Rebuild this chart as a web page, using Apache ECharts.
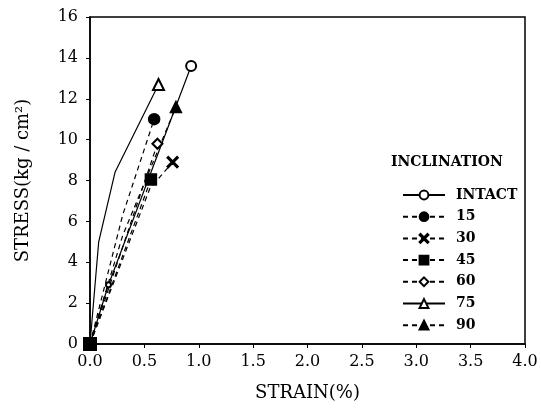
<!DOCTYPE html>
<html><head><meta charset="utf-8">
<script src="https://cdn.jsdelivr.net/npm/echarts@6/dist/echarts.min.js"></script>
<style>html,body{margin:0;padding:0;background:#fff}#c{width:541px;height:411px}</style>
</head><body><div id="c"></div>
<script>
const xTicks = [0, 0.5, 1.0, 1.5, 2.0, 2.5, 3.0, 3.5, 4.0];
const yTicks = [0, 2, 4, 6, 8, 10, 12, 14, 16];
const seriesNames = ['INTACT', '15', '30', '45', '60', '75', '90'];
const strainIntact = [0, 0.17, 0.93];
const stressIntact = [0, 2.9, 13.6];
const strain15 = [0, 0.3, 0.59];
const stress15 = [0, 6.3, 11.0];
const strain30 = [0, 0.55, 0.76];
const stress30 = [0, 7.6, 8.9];
const strain45 = [0, 0.56];
const stress45 = [0, 8.05];
const strain60 = [0, 0.62];
const stress60 = [0, 9.8];
const strain75 = [0, 0.08, 0.23, 0.63];
const stress75 = [0, 5.0, 8.4, 12.7];
const strain90 = [0, 0.3, 0.79];
const stress90 = [0, 5.3, 11.6];

const crossPath = 'path://M0,1L1,0L5,4L9,0L10,1L6,5L10,9L9,10L5,6L1,10L0,9L4,5Z';
const defs = [
  {x: strainIntact, y: stressIntact, sym: 'emptyCircle', size: 10, type: 'solid', mid: [1]},
  {x: strain15, y: stress15, sym: 'circle', size: 11, type: 'dashed', mid: []},
  {x: strain30, y: stress30, sym: crossPath, size: 11, type: 'dashed', mid: []},
  {x: strain45, y: stress45, sym: 'rect', size: 11, type: 'dashed', mid: []},
  {x: strain60, y: stress60, sym: 'emptyDiamond', size: 10, type: 'dashed', mid: []},
  {x: strain75, y: stress75, sym: 'emptyTriangle', size: 11, type: 'solid', mid: []},
  {x: strain90, y: stress90, sym: 'triangle', size: 11, type: 'dashed', mid: []}
];
const serif = '"DejaVu Serif", "Liberation Serif", serif';
const series = defs.map((d, i) => ({
  name: seriesNames[i],
  type: 'line',
  symbol: d.sym,
  symbolSize: d.size,
  showAllSymbol: true,
  itemStyle: {color: '#000', borderColor: '#000', borderWidth: 1.5},
  lineStyle: {color: '#000', width: 1.2, type: d.type === 'dashed' ? [5, 4] : 'solid'},
  data: d.x.map((xv, j) => {
    const last = j === d.x.length - 1;
    const item = {value: [xv, d.y[j]]};
    if (j === 0) { item.symbol = 'rect'; item.symbolSize = 12; item.itemStyle = {color: '#000'}; }
    else if (d.mid.indexOf(j) >= 0) { item.symbol = 'emptyCircle'; item.symbolSize = 5; }
    else if (!last) { item.symbol = 'none'; }
    return item;
  }),
  z: 3
}));

const chart = echarts.init(document.getElementById('c'));
chart.setOption({
  animation: false,
  backgroundColor: '#fff',
  grid: {left: 90, right: 16, top: 17, bottom: 67, show: true, borderColor: '#000', borderWidth: 1.5, backgroundColor: 'transparent'},
  xAxis: {
    type: 'value', min: 0, max: 4, interval: 0.5,
    name: 'STRAIN(%)', nameLocation: 'middle', nameGap: 40,
    nameTextStyle: {fontFamily: serif, fontSize: 18, color: '#000'},
    axisLine: {lineStyle: {color: '#000', width: 1.5}},
    axisTick: {show: true, length: 4, lineStyle: {color: '#000'}},
    axisLabel: {fontFamily: serif, fontSize: 16, color: '#000', margin: 10, formatter: v => v.toFixed(1)},
    splitLine: {show: false}
  },
  yAxis: {
    type: 'value', min: 0, max: 16, interval: 2,
    name: 'STRESS(kg / cm²)', nameLocation: 'middle', nameGap: 58,
    nameTextStyle: {fontFamily: serif, fontSize: 18, color: '#000'},
    axisLine: {lineStyle: {color: '#000', width: 1.5}},
    axisTick: {show: true, length: 4, lineStyle: {color: '#000'}},
    axisLabel: {fontFamily: serif, fontSize: 16, color: '#000', margin: 12},
    splitLine: {show: false}
  },
  legend: {
    orient: 'vertical', left: 397, top: 183,
    itemWidth: 42, itemHeight: 11, itemGap: 7.7,
    textStyle: {fontFamily: serif, fontSize: 14, fontWeight: 'bold', color: '#000', padding: [0, 0, 0, 6]},
    data: seriesNames
  },
  graphic: [{
    type: 'text', left: 391, top: 155,
    style: {text: 'INCLINATION', font: 'bold 14px ' + serif, fill: '#000'}
  }],
  series: series
});
</script></body></html>
